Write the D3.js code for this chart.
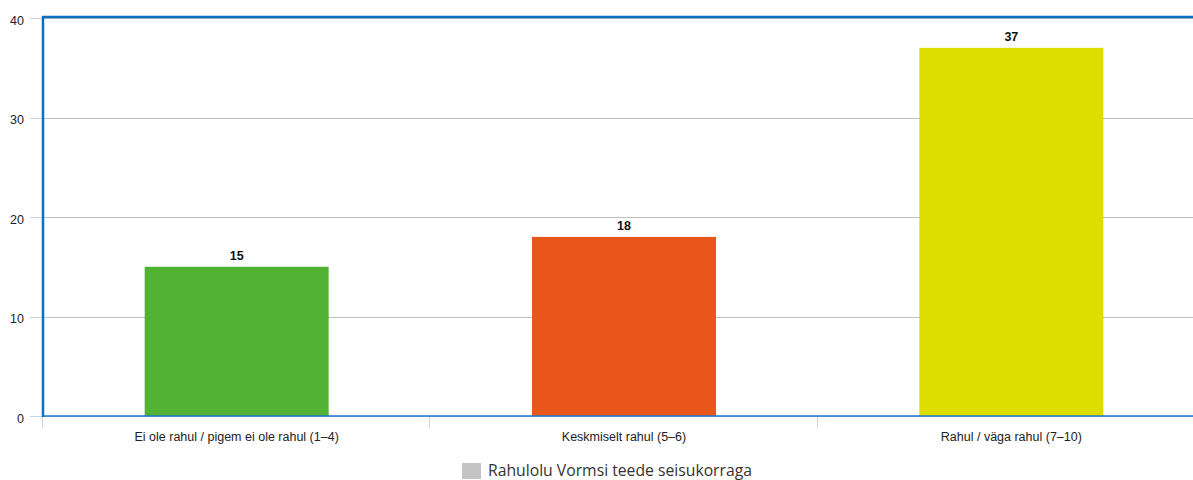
<!DOCTYPE html>
<html><head><meta charset="utf-8">
<script src="https://cdn.jsdelivr.net/npm/d3@7"></script>
<style>body{margin:0;background:#fff;} svg{display:block;font-family:"Liberation Sans",Arial,sans-serif;}</style>
</head><body>
<svg id="c" width="1193" height="480"></svg>
<script>
const categories = ["Ei ole rahul / pigem ei ole rahul (1–4)", "Keskmiselt rahul (5–6)", "Rahul / väga rahul (7–10)"];
const values = [15, 18, 37];
const colors = ["#52b233", "#e9561b", "#dddd00"];
const yTicks = [0, 10, 20, 30, 40];
const seriesName = "Rahulolu Vormsi teede seisukorraga";

const svg = d3.select("#c");
const m = {left: 43, top: 18, bottom: 416, right: 1205};
const x = d3.scaleBand().domain(categories).range([m.left, m.right]).paddingInner(0.525).paddingOuter(0.2625);
const y = d3.scaleLinear().domain([0, 40]).range([m.bottom, m.top]);

// grid
svg.append("g").selectAll("line").data(yTicks).join("line")
  .attr("x1", m.left).attr("x2", m.right).attr("y1", d => Math.round(y(d)) + 0.5).attr("y2", d => Math.round(y(d)) + 0.5)
  .attr("stroke", "#c0c0c0").attr("stroke-width", 1);
svg.append("g").selectAll("line").data(yTicks).join("line")
  .attr("x1", 30).attr("x2", m.left).attr("y1", d => Math.round(y(d)) + 0.5).attr("y2", d => Math.round(y(d)) + 0.5)
  .attr("stroke", "#c8d4e4").attr("stroke-width", 1);
svg.append("g").selectAll("text").data(yTicks).join("text")
  .attr("x", 24).attr("y", d => y(d) + 6.5).attr("text-anchor", "end")
  .attr("font-size", 12.5).attr("fill", "#222").text(d => d);

// bars
svg.append("g").selectAll("rect").data(values).join("rect")
  .attr("x", (d, i) => x(categories[i])).attr("width", x.bandwidth())
  .attr("y", d => y(d)).attr("height", d => y(0) - y(d))
  .attr("fill", (d, i) => colors[i]);
svg.append("g").selectAll("text").data(values).join("text")
  .attr("x", (d, i) => x(categories[i]) + x.bandwidth() / 2).attr("y", d => y(d) - 7)
  .attr("text-anchor", "middle").attr("font-size", 12.5).attr("font-weight", "bold").attr("fill", "#111").text(d => d);

// x ticks
const bounds = [0, 1, 2, 3].map(i => m.left + i * x.step());
svg.append("g").selectAll("line").data(bounds).join("line")
  .attr("x1", d => Math.round(d) - 0.5).attr("x2", d => Math.round(d) - 0.5).attr("y1", m.bottom).attr("y2", m.bottom + 12)
  .attr("stroke", "#c8d4e4").attr("stroke-width", 1);
svg.append("g").selectAll("text").data(categories).join("text")
  .attr("x", d => x(d) + x.bandwidth() / 2).attr("y", 441)
  .attr("text-anchor", "middle").attr("font-size", 12.5).attr("fill", "#222").text(d => d);

// axes (blue)
svg.append("line").attr("x1", m.left).attr("x2", 1193).attr("y1", m.bottom).attr("y2", m.bottom)
  .attr("stroke", "#1a7ad0").attr("stroke-width", 1.5);
svg.append("line").attr("x1", m.left - 1).attr("x2", 1193).attr("y1", 17).attr("y2", 17)
  .attr("stroke", "#0a6fc2").attr("stroke-width", 2.5);
svg.append("line").attr("x1", m.left).attr("x2", m.left).attr("y1", 16).attr("y2", m.bottom + 1)
  .attr("stroke", "#0a6fc2").attr("stroke-width", 2.5);

// legend
svg.append("rect").attr("x", 462).attr("y", 463).attr("width", 19).attr("height", 16).attr("fill", "#c4c4c4");
const lt = svg.append("text").attr("x", 488).attr("y", 475.5).attr("font-family", "'Open Sans', sans-serif")
  .attr("font-size", 15).attr("fill", "#333").text(seriesName);
const w = lt.node().getComputedTextLength();
lt.attr("font-size", 15 * 264 / w);
</script>
</body></html>
